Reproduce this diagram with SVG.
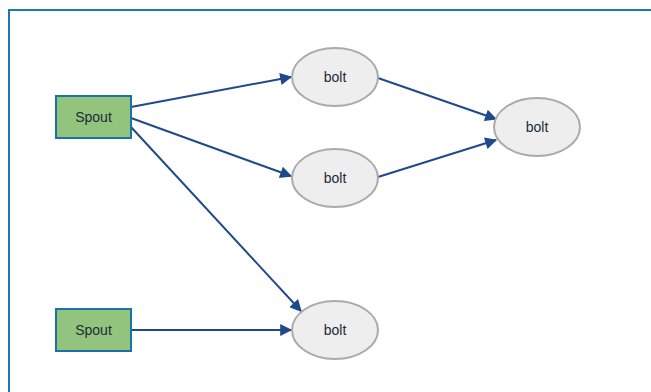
<svg xmlns="http://www.w3.org/2000/svg" width="651" height="392" viewBox="0 0 651 392">
  <style>
    .frame { fill: #ffffff; stroke: #1f78b4; stroke-width: 2; }
    .spout rect { fill: #93c47d; stroke: #1a73a8; stroke-width: 2; }
    .bolt ellipse { fill: #eeeeee; stroke: #aaaaaa; stroke-width: 2; }
    text { font-family: "Liberation Sans", Arial, sans-serif; font-size: 14px; fill: #1d2b36; text-anchor: middle; dominant-baseline: central; }
    .edges line { stroke: #1f4a8a; stroke-width: 2; marker-end: url(#arrow); }
  </style>
  <defs>
    <marker id="arrow" viewBox="0 0 10 10" refX="9" refY="5" markerWidth="8" markerHeight="6" markerUnits="strokeWidth" orient="auto">
      <path d="M0,0 L10,5 L0,10 z" fill="#1f4a8a"/>
    </marker>
  </defs>

  <rect class="frame" x="9" y="10" width="660" height="400"/>

  <g class="edges">
    <line x1="131" y1="107" x2="291" y2="77"/>
    <line x1="131" y1="118" x2="291" y2="176"/>
    <line x1="131" y1="127" x2="301" y2="311"/>
    <line x1="131" y1="330" x2="291" y2="330"/>
    <line x1="378" y1="78" x2="496" y2="119"/>
    <line x1="378" y1="177" x2="496" y2="140"/>
  </g>

  <g id="spout1" class="spout">
    <rect x="56" y="96" width="75" height="42"/>
    <text x="93.5" y="117">Spout</text>
  </g>
  <g id="spout2" class="spout">
    <rect x="56" y="309" width="75" height="42"/>
    <text x="93.5" y="330">Spout</text>
  </g>

  <g id="bolt1" class="bolt">
    <ellipse cx="335" cy="77" rx="43" ry="29"/>
    <text x="335" y="77">bolt</text>
  </g>
  <g id="bolt2" class="bolt">
    <ellipse cx="335" cy="178" rx="43" ry="29"/>
    <text x="335" y="178">bolt</text>
  </g>
  <g id="bolt3" class="bolt">
    <ellipse cx="335" cy="330" rx="43" ry="29"/>
    <text x="335" y="330">bolt</text>
  </g>
  <g id="bolt4" class="bolt">
    <ellipse cx="537" cy="127" rx="43" ry="29"/>
    <text x="537" y="127">bolt</text>
  </g>
</svg>
